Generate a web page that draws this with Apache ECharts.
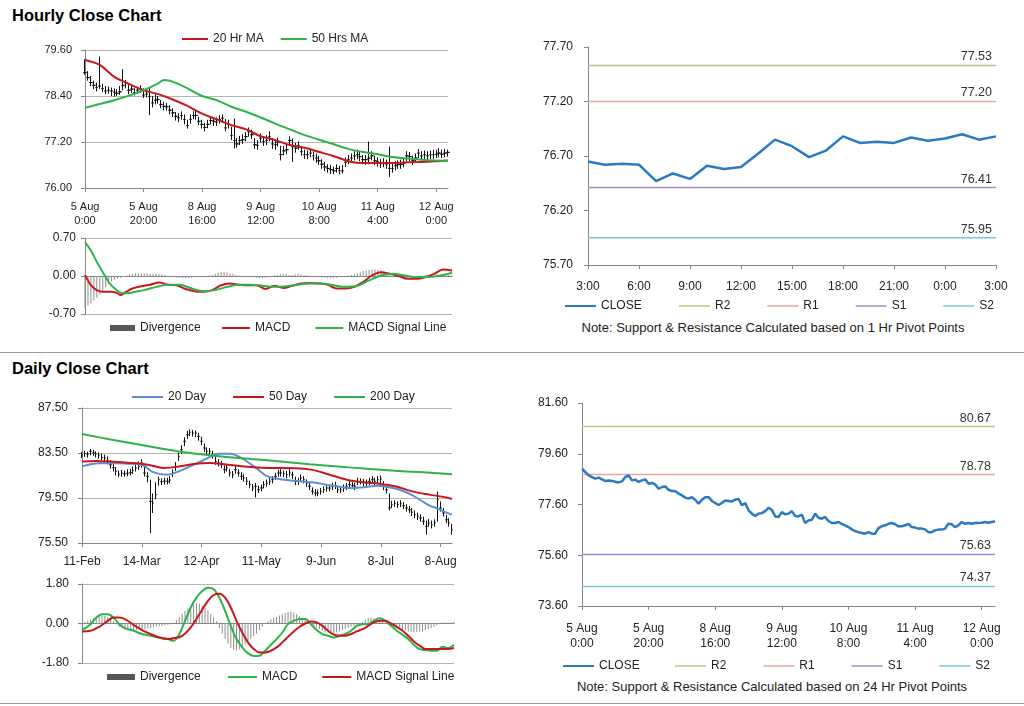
<!DOCTYPE html>
<html><head><meta charset="utf-8">
<script src="https://cdn.jsdelivr.net/npm/echarts/dist/echarts.min.js"></script>
<style>
body{margin:0;background:#fff;width:1024px;height:706px;overflow:hidden;position:relative;font-family:"Liberation Sans",Arial,sans-serif;}
.chart{position:absolute;left:0;top:0;width:1024px;height:706px;}
.title{position:absolute;left:12px;font-weight:bold;font-size:16.5px;color:#000;white-space:nowrap;}
.sep{position:absolute;left:0;width:1024px;height:0;border-top:1px solid #9a9a9a;}
.note{position:absolute;transform:translateX(-50%);font-size:13px;color:#222;white-space:nowrap;}
</style></head>
<body>
<div class="title" style="top:6px">Hourly Close Chart</div>
<div class="title" style="top:359px">Daily Close Chart</div>
<div class="sep" style="top:352px"></div>
<div class="sep" style="top:703px"></div>
<div class="note" style="left:773px;top:320px">Note: Support &amp; Resistance Calculated based on 1 Hr Pivot Points</div>
<div class="note" style="left:772px;top:679px">Note: Support &amp; Resistance Calculated based on 24 Hr Pivot Points</div>
<div id="c1" class="chart"></div>
<div id="c2" class="chart"></div>
<div id="c3" class="chart"></div>
<div id="c4" class="chart"></div>
<div id="c5" class="chart"></div>
<div id="c6" class="chart"></div>
<script>
// ---------------- DATA ----------------
const hourlyTicks = ['5 Aug\n0:00','5 Aug\n20:00','8 Aug\n16:00','9 Aug\n12:00','10 Aug\n8:00','11 Aug\n4:00','12 Aug\n0:00'];
const dailyTicks = ['11-Feb','14-Mar','12-Apr','11-May','9-Jun','8-Jul','8-Aug'];
const pivotHours = ['3:00','4:00','5:00','6:00','7:00','8:00','9:00','10:00','11:00','12:00','13:00','14:00','15:00','16:00','17:00','18:00','19:00','20:00','21:00','22:00','23:00','0:00','1:00','2:00','3:00'];

const hourlyClose = [79.01,78.88,78.75,78.68,78.62,78.66,78.59,78.53,78.55,78.53,78.50,78.47,78.51,78.68,78.75,78.55,78.58,78.49,78.55,78.59,
78.42,78.45,78.39,78.22,78.29,78.31,78.18,78.13,78.12,78.03,77.96,77.87,77.83,77.89,77.79,77.63,77.79,77.89,77.89,77.74,
77.66,77.58,77.66,77.76,77.74,77.72,77.79,77.82,77.57,77.66,77.37,77.24,77.15,77.24,77.26,77.34,77.47,77.39,77.13,77.11,
77.30,77.21,77.24,77.34,77.15,77.13,77.20,76.87,76.97,77.00,77.24,77.08,77.04,77.11,76.95,76.87,76.87,76.91,76.84,76.78,
76.71,76.62,76.55,76.51,76.48,76.45,76.51,76.45,76.45,76.67,76.74,76.78,76.84,76.87,76.82,76.74,76.74,76.78,76.84,76.71,
76.69,76.65,76.65,76.62,76.51,76.51,76.58,76.61,76.61,76.65,76.84,76.82,76.71,76.78,76.91,76.84,76.87,76.84,76.87,76.87,
76.88,76.91,76.88,76.91,76.93];
const hourlyHigh = [79.36,79.05,78.92,78.80,78.75,79.43,78.72,78.66,78.65,78.62,78.60,78.58,78.66,79.10,78.82,78.70,78.68,78.60,78.64,78.68,
78.60,78.55,78.62,78.40,78.45,78.40,78.30,78.25,78.22,78.15,78.08,77.98,77.95,78.00,77.92,77.78,77.92,78.00,78.02,77.86,
77.78,77.70,77.78,77.88,77.85,77.84,77.90,77.92,77.80,77.78,77.60,77.81,77.30,77.36,77.40,77.46,77.58,77.52,77.30,77.25,
77.42,77.35,77.38,77.48,77.30,77.25,77.32,77.10,77.10,77.15,77.35,77.29,77.18,77.22,77.08,77.00,76.98,77.02,76.95,76.90,
76.84,76.75,76.68,76.62,76.60,76.56,76.62,76.58,76.60,76.80,76.86,76.90,76.96,77.00,76.94,76.86,76.86,77.21,76.96,76.84,
76.80,76.76,76.78,76.74,77.08,76.64,76.70,76.72,76.74,76.78,76.96,76.94,76.84,76.90,77.02,76.96,76.98,76.96,76.98,77.00,
77.00,77.04,77.00,77.02,77.00];
const hourlyLow = [78.95,78.80,78.66,78.58,78.52,78.58,78.50,78.45,78.46,78.40,78.38,78.40,78.43,78.55,78.60,78.45,78.48,78.42,78.46,78.48,
78.35,78.36,77.90,78.10,78.18,78.20,78.08,78.03,78.02,77.92,77.85,77.76,77.72,77.78,77.66,77.55,77.68,77.80,77.78,77.64,
77.55,77.48,77.56,77.66,77.62,77.62,77.68,77.70,77.48,77.55,77.25,77.03,77.05,77.12,77.15,77.22,77.34,77.28,77.02,77.00,
77.18,77.10,77.12,77.22,77.02,77.00,77.08,76.72,76.85,76.88,77.10,76.68,76.92,77.00,76.84,76.76,76.75,76.80,76.72,76.66,
76.60,76.50,76.44,76.40,76.37,76.36,76.40,76.36,76.38,76.55,76.62,76.66,76.72,76.75,76.70,76.62,76.60,76.62,76.72,76.60,
76.56,76.52,76.54,76.50,76.29,76.40,76.46,76.50,76.50,76.54,76.70,76.70,76.60,76.66,76.78,76.72,76.76,76.72,76.76,76.76,
76.78,76.80,76.78,76.80,76.82];
const hourlyMA20 = [[0,79.34],[5,79.21],[10,78.90],[14,78.75],[20,78.55],[25,78.45],[30,78.31],[35,78.14],[40,77.94],[45,77.79],[50,77.64],[55,77.53],[60,77.35],[65,77.25],[70,77.12],[75,77.05],[80,76.94],[85,76.83],[90,76.70],[95,76.65],[100,76.65],[105,76.65],[110,76.67],[115,76.68],[120,76.70],[124,76.72]];
const hourlyMA50 = [[0,78.09],[5,78.19],[10,78.29],[15,78.41],[20,78.55],[25,78.73],[27,78.82],[29,78.80],[32,78.71],[35,78.60],[40,78.40],[45,78.29],[50,78.12],[55,77.99],[60,77.84],[65,77.68],[70,77.53],[75,77.38],[80,77.26],[85,77.14],[90,77.02],[95,76.94],[100,76.88],[105,76.81],[110,76.77],[115,76.74],[120,76.72],[124,76.71]];
const hourlyDiv = [-0.60,-0.55,-0.50,-0.45,-0.40,-0.34,-0.28,-0.21,-0.15,-0.10,-0.07,-0.05,-0.03,-0.01,0.01,0.03,0.04,0.05,0.05,0.05,
0.05,0.05,0.04,0.04,0.04,0.03,0.03,0.02,0.00,-0.01,-0.02,-0.03,-0.03,-0.04,-0.04,-0.03,-0.03,-0.02,-0.02,-0.01,
-0.01,0.00,0.01,0.02,0.04,0.06,0.07,0.08,0.07,0.05,0.04,0.02,0.01,0.00,0.00,-0.01,-0.01,-0.02,-0.03,-0.04,
-0.04,-0.03,-0.02,-0.01,0.01,0.02,0.03,0.03,0.03,0.02,0.02,0.03,0.04,0.03,0.02,0.01,0.00,-0.01,-0.02,-0.02,
-0.03,-0.03,-0.04,-0.04,-0.03,-0.03,-0.02,-0.01,0.00,0.01,0.02,0.03,0.05,0.07,0.09,0.10,0.11,0.12,0.12,0.11,
0.10,0.08,0.05,0.02,0.00,-0.01,-0.02,-0.03,-0.03,-0.03,-0.02,-0.02,-0.01,0.00,0.01,0.02,0.02,0.03,0.03,0.03,
0.02,0.03,0.03,0.02,0.02];
const hourlyMACD = [[0,0.02],[2,-0.17],[4,-0.26],[6,-0.29],[9,-0.29],[11,-0.32],[12,-0.35],[14,-0.29],[16,-0.23],[19,-0.19],[22,-0.16],[25,-0.12],[28,-0.16],[31,-0.17],[34,-0.24],[37,-0.28],[40,-0.29],[43,-0.26],[46,-0.17],[49,-0.14],[52,-0.16],[55,-0.17],[58,-0.17],[61,-0.24],[64,-0.18],[67,-0.22],[70,-0.18],[73,-0.14],[76,-0.13],[79,-0.14],[82,-0.16],[85,-0.23],[88,-0.23],[91,-0.20],[94,-0.11],[97,0.01],[100,0.07],[103,0.04],[106,0.00],[109,-0.05],[112,-0.05],[115,-0.02],[118,0.04],[121,0.12],[124,0.10]];
const hourlySignal = [[0,0.62],[2,0.47],[4,0.26],[6,0.07],[8,-0.11],[10,-0.23],[12,-0.31],[14,-0.32],[17,-0.29],[20,-0.26],[24,-0.20],[28,-0.16],[32,-0.16],[36,-0.23],[40,-0.28],[44,-0.26],[48,-0.20],[52,-0.16],[56,-0.16],[60,-0.18],[64,-0.20],[68,-0.19],[72,-0.16],[76,-0.14],[80,-0.14],[84,-0.17],[88,-0.20],[92,-0.18],[96,-0.08],[100,0.01],[104,0.04],[108,0.01],[112,-0.02],[116,-0.02],[120,0.01],[124,0.06]];

const pivotClose = [76.65,76.62,76.63,76.62,76.47,76.54,76.49,76.61,76.58,76.60,76.72,76.85,76.79,76.69,76.75,76.88,76.82,76.83,76.82,76.87,76.84,76.86,76.90,76.85,76.88];
const pivotNames = ['R2','R1','S1','S2'];
const pivot1hLevels = [77.53,77.20,76.41,75.95];
const pivot24hLevels = [80.67,78.78,75.63,74.37];

const dailyClose = [83.30,83.45,83.40,83.65,83.50,83.40,83.30,83.10,83.06,82.80,82.46,82.20,81.87,81.60,81.72,81.65,81.70,81.75,81.95,82.17,
82.30,82.60,81.72,81.43,79.20,79.06,79.80,81.13,80.95,81.00,80.98,81.10,81.72,82.30,83.20,83.80,84.54,85.13,85.34,85.28,
85.28,84.98,84.54,83.94,83.65,83.65,83.35,82.76,82.61,82.46,82.02,82.17,81.72,81.57,82.02,81.72,81.43,81.28,80.98,80.69,
80.39,80.54,80.24,80.39,80.69,80.83,80.98,81.13,81.43,81.72,81.72,81.66,81.57,81.72,81.57,80.98,80.98,81.28,81.13,80.83,
80.54,80.09,79.94,79.94,80.09,80.24,80.39,80.39,80.54,80.60,80.24,80.24,80.39,80.54,80.69,80.60,80.54,80.98,80.98,80.89,
80.83,80.98,81.13,80.98,81.13,81.19,80.54,80.24,78.61,78.91,79.00,78.91,79.00,78.82,78.61,78.46,78.23,78.02,77.87,77.72,
77.43,76.98,77.28,77.13,77.28,79.35,78.61,78.17,77.57,77.28,76.69];
const dailyHigh = [83.60,83.70,83.62,83.85,83.78,83.65,83.55,83.45,83.35,83.20,82.85,82.55,82.25,81.95,82.00,81.95,82.05,82.10,82.30,82.50,
82.75,82.95,82.50,81.80,81.13,79.90,80.90,81.40,81.25,81.30,81.30,81.45,82.05,82.70,83.55,84.20,84.90,85.45,85.60,85.55,
85.50,85.30,84.95,84.35,84.00,83.95,83.70,83.20,82.95,82.80,82.40,82.50,82.10,81.90,82.35,82.05,81.80,81.60,81.35,81.05,
80.75,80.85,80.60,80.70,81.00,81.15,81.30,81.45,81.75,82.00,82.05,81.95,81.90,82.05,81.85,81.40,81.30,81.60,81.45,81.15,
80.90,80.45,80.30,80.25,80.40,80.55,80.70,80.70,80.85,80.95,80.60,80.55,80.70,80.85,81.00,80.90,80.85,81.30,81.25,81.20,
81.15,81.30,81.45,81.30,81.45,81.50,81.00,80.60,79.90,79.25,79.30,79.20,79.30,79.15,78.95,78.80,78.60,78.40,78.20,78.05,
77.85,77.50,77.65,77.50,77.60,80.09,79.20,78.60,78.00,77.70,77.20];
const dailyLow = [83.05,83.15,83.10,83.30,83.25,83.10,83.00,82.85,82.75,82.50,82.10,81.85,81.50,81.35,81.40,81.40,81.45,81.50,81.65,81.85,
82.00,82.20,81.40,80.90,76.39,78.17,79.40,80.60,80.65,80.70,80.70,80.80,81.35,81.90,82.80,83.40,84.10,84.75,85.00,84.95,
84.90,84.60,84.20,83.60,83.30,83.35,83.00,82.45,82.30,82.15,81.70,81.85,81.40,81.25,81.65,81.40,81.10,80.95,80.65,80.40,
80.10,79.55,79.95,80.10,80.35,80.50,80.65,80.80,81.10,81.40,81.40,81.35,81.25,81.40,81.20,80.65,80.65,80.95,80.80,80.50,
80.20,79.80,79.65,79.65,79.80,79.95,80.05,80.10,80.20,80.30,79.95,79.95,80.05,80.20,80.35,80.30,80.20,80.65,80.70,80.55,
80.50,80.65,80.80,80.65,80.80,80.85,80.20,79.90,78.40,78.60,78.70,78.60,78.70,78.50,78.30,78.15,77.90,77.70,77.55,77.40,
77.10,76.24,76.95,76.80,76.95,77.40,78.30,77.85,77.25,76.95,76.24];
const daily20MA = [[0,82.31],[6,82.60],[12,82.60],[16,82.55],[21,82.46],[25,81.80],[30,81.57],[34,81.87],[38,82.31],[43,82.90],[48,83.44],[52,83.44],[57,82.90],[62,82.00],[65,81.45],[71,81.13],[81,80.89],[88,80.60],[95,80.39],[99,80.45],[104,80.60],[110,80.35],[113,80.10],[116,79.75],[119,79.30],[122,78.85],[125,78.55],[127,78.31],[130,78.02]];
const daily50MA = [[0,82.75],[5,82.80],[10,82.75],[15,82.65],[21,82.55],[25,82.35],[29,82.17],[34,82.30],[40,82.55],[45,82.61],[50,82.50],[57,82.30],[65,82.17],[75,82.15],[81,82.00],[87,81.57],[93,81.13],[99,80.89],[104,80.78],[110,80.54],[116,80.09],[122,79.80],[127,79.60],[130,79.41]];
const daily200MA = [[0,85.19],[10,84.70],[20,84.25],[34,83.64],[45,83.30],[55,83.05],[65,82.85],[80,82.50],[95,82.20],[110,81.92],[120,81.78],[130,81.62]];
const dailyDiv = [0.03,0.08,0.12,0.18,0.24,0.28,0.32,0.35,0.34,0.30,0.22,0.10,-0.05,-0.15,-0.22,-0.28,-0.32,-0.35,-0.34,-0.32,
-0.30,-0.28,-0.25,-0.22,-0.20,-0.18,-0.15,-0.12,-0.10,-0.08,-0.06,-0.03,0.05,0.15,0.30,0.45,0.58,0.70,0.80,0.87,
0.92,0.90,0.82,0.70,0.58,0.45,0.30,0.10,-0.20,-0.45,-0.70,-0.92,-1.10,-1.20,-1.22,-1.18,-1.08,-0.95,-0.82,-0.70,
-0.58,-0.45,-0.30,-0.15,0.00,0.10,0.18,0.25,0.30,0.36,0.42,0.48,0.52,0.55,0.50,0.42,0.33,0.25,0.18,0.08,
-0.02,-0.10,-0.18,-0.25,-0.32,-0.38,-0.42,-0.45,-0.44,-0.40,-0.35,-0.30,-0.25,-0.20,-0.15,-0.10,-0.05,0.00,0.08,0.18,
0.25,0.27,0.24,0.20,0.15,0.08,0.02,-0.05,-0.12,-0.18,-0.22,-0.25,-0.28,-0.32,-0.35,-0.38,-0.40,-0.40,-0.38,-0.35,
-0.30,-0.25,-0.20,-0.15,-0.08,-0.02,0.03,0.05,0.03,0.06,0.08];
const dailyMACD = [[0,-0.30],[3,-0.03],[5,0.27],[7,0.42],[9,0.42],[11,0.27],[13,-0.03],[15,-0.21],[18,-0.33],[21,-0.48],[24,-0.56],[27,-0.64],[30,-0.71],[32,-0.79],[34,-0.48],[36,0.12],[38,0.73],[40,1.18],[42,1.48],[44,1.63],[46,1.56],[48,1.18],[50,0.57],[52,-0.11],[54,-0.71],[56,-1.09],[58,-1.36],[60,-1.48],[62,-1.47],[64,-1.24],[66,-0.97],[68,-0.71],[70,-0.41],[72,-0.03],[74,0.12],[76,0.20],[78,0.20],[80,-0.03],[82,-0.30],[84,-0.48],[86,-0.56],[88,-0.64],[90,-0.56],[92,-0.48],[94,-0.33],[96,-0.11],[98,-0.03],[100,-0.03],[102,0.12],[104,0.24],[106,0.12],[108,-0.11],[110,-0.33],[112,-0.51],[114,-0.71],[116,-0.97],[118,-1.17],[120,-1.21],[122,-1.24],[124,-1.24],[126,-1.06],[128,-1.12],[130,-0.97]];
const dailySignal = [[0,-0.36],[3,-0.33],[6,-0.15],[9,0.12],[11,0.27],[13,0.27],[15,0.20],[18,-0.06],[21,-0.30],[24,-0.48],[27,-0.64],[30,-0.71],[32,-0.67],[35,-0.56],[38,-0.18],[41,0.42],[44,1.03],[46,1.30],[48,1.36],[50,1.18],[52,0.73],[54,0.12],[56,-0.41],[58,-0.86],[60,-1.16],[62,-1.32],[64,-1.32],[66,-1.24],[68,-1.09],[70,-0.86],[72,-0.61],[74,-0.36],[76,-0.15],[78,0.00],[80,0.09],[82,0.05],[84,-0.11],[86,-0.33],[88,-0.51],[90,-0.56],[92,-0.56],[94,-0.48],[96,-0.36],[98,-0.26],[100,-0.11],[102,0.05],[104,0.12],[106,0.12],[108,0.00],[110,-0.15],[112,-0.33],[114,-0.56],[116,-0.82],[118,-1.01],[120,-1.16],[122,-1.16],[124,-1.16],[126,-1.16],[128,-1.16],[130,-1.12]];

// ---------------- HELPERS ----------------
const FONT = '"Liberation Sans", Arial, sans-serif';
const TXT = '#222';
const AXIS = '#868686';
const RED = '#c8171d', GREEN = '#2db34a', BLUE = '#2a7abf', LBLUE = '#5b8fd4';
const PIVOT_COLORS = ['#b2cc85','#e8a5a5','#a68bc8','#7cc4da'];

function valAxis(min, max, interval, split, margin, fs) {
  return {type:'value', min:min, max:max, interval:interval,
    axisLine:{show:true, lineStyle:{color:AXIS}},
    axisTick:{show:true, length:4, lineStyle:{color:AXIS}},
    axisLabel:{color:TXT, fontSize:fs, fontFamily:FONT, margin:margin, formatter:v=>v.toFixed(2)},
    splitLine:{show:split, lineStyle:{color:'#b3b3b3', width:1}}};
}
function catAxis(n, every, ticks, margin, fs, lh, showLabels) {
  const idx = Array.from({length:n}, (_, i) => String(i));
  return {type:'category', data:idx, boundaryGap:false,
    axisLine:{show:true, onZero:true, lineStyle:{color:AXIS}},
    axisTick:{show:showLabels, interval:every-1, length:4, lineStyle:{color:AXIS}},
    axisLabel:{show:showLabels, interval:every-1, color:TXT, fontSize:fs, fontFamily:FONT, margin:margin, lineHeight:lh,
      formatter:(v, i) => (i % every === 0 && ticks[i/every] !== undefined) ? ticks[i/every] : ''},
    splitLine:{show:false}};
}
function lineLegend(left, top, names, w, gap, h) {
  return {left:left, top:top, padding:0, icon:'rect', itemWidth:w, itemHeight:h||2, itemGap:gap,
    textStyle:{color:TXT, fontSize:12, fontFamily:FONT}, data:names};
}
function maLine(name, data, color, width) {
  return {name:name, type:'line', data:data, symbol:'none', smooth:0.35, lineStyle:{color:color, width:width||2}, itemStyle:{color:color}, z:5};
}
function pivotSeries(levels, lastIdx) {
  return pivotNames.map((nm, k) => ({
    name:nm, type:'line', symbol:'none', lineStyle:{color:PIVOT_COLORS[k], width:1.5}, itemStyle:{color:PIVOT_COLORS[k]},
    data:[[0, levels[k]], [lastIdx, levels[k]]],
    endLabel:{show:true, align:'right', verticalAlign:'bottom', distance:0, offset:[-4,-2], color:'#333', fontSize:12.5, fontFamily:FONT,
      formatter:p => levels[k].toFixed(2)}
  }));
}
const G = {outerBoundsMode:'none', containLabel:false};

// ---------------- CHART 1: hourly price ----------------
const c1 = echarts.init(document.getElementById('c1'));
c1.setOption({
  animation:false,
  legend:lineLegend(182, 33, ['20 Hr MA','50 Hrs MA'], 26, 17),
  grid:Object.assign({left:85, top:50, width:363, height:138}, G),
  xAxis:catAxis(hourlyClose.length, 20, hourlyTicks, 12, 11, 14, true),
  yAxis:valAxis(76, 79.6, 1.2, true, 13, 11),
  series:[
    {name:'Price', type:'candlestick', barWidth:3,
      data:hourlyClose.map((c, i) => [c, c, hourlyLow[i], hourlyHigh[i]]),
      itemStyle:{color:'#111', color0:'#111', borderColor:'#111', borderColor0:'#111', borderWidth:1}},
    maLine('20 Hr MA', hourlyMA20, RED),
    maLine('50 Hrs MA', hourlyMA50, GREEN)
  ]
});

// ---------------- CHART 2: hourly MACD ----------------
const c2 = echarts.init(document.getElementById('c2'));
c2.setOption({
  animation:false,
  legend:[
    {left:110, top:322, padding:0, icon:'rect', itemWidth:25, itemHeight:6, textStyle:{color:TXT, fontSize:12, fontFamily:FONT}, data:[{name:'Divergence', itemStyle:{color:'#555'}}]},
    lineLegend(222, 322, ['MACD','MACD Signal Line'], 28, 25)
  ],
  grid:Object.assign({left:85, top:238, width:367, height:76}, G),
  xAxis:catAxis(hourlyDiv.length, 20, [], 0, 11, 14, false),
  yAxis:valAxis(-0.7, 0.7, 0.7, true, 9, 12),
  series:[
    {name:'Divergence', type:'bar', data:hourlyDiv, barWidth:1, itemStyle:{color:'#8c8c8c'}},
    maLine('MACD', hourlyMACD, RED),
    maLine('MACD Signal Line', hourlySignal, GREEN)
  ]
});

// ---------------- CHART 3: 1 Hr pivot ----------------
const c3 = echarts.init(document.getElementById('c3'));
c3.setOption({
  animation:false,
  legend:[lineLegend(565, 300, ['CLOSE'], 31, 37, 2), lineLegend(679, 300, pivotNames, 31, 37, 1.5)],
  grid:Object.assign({left:588, top:47, width:408, height:218}, G),
  xAxis:catAxis(pivotClose.length, 3, pivotHours.filter((_, i) => i % 3 === 0), 15, 12, 14, true),
  yAxis:valAxis(75.7, 77.7, 0.5, false, 15, 12),
  series:[{name:'CLOSE', type:'line', data:pivotClose, symbol:'none', lineStyle:{color:BLUE, width:2.5}, itemStyle:{color:BLUE}, z:5}]
    .concat(pivotSeries(pivot1hLevels, pivotClose.length - 1))
});

// ---------------- CHART 4: daily price ----------------
const c4 = echarts.init(document.getElementById('c4'));
c4.setOption({
  animation:false,
  legend:lineLegend(132, 391, ['20 Day','50 Day','200 Day'], 31, 27),
  grid:Object.assign({left:82, top:408, width:370, height:135}, G),
  xAxis:catAxis(dailyClose.length, 21, dailyTicks, 12, 12, 14, true),
  yAxis:valAxis(75.5, 87.5, 4, true, 14, 12),
  series:[
    {name:'Price', type:'candlestick', barWidth:2,
      data:dailyClose.map((c, i) => [c, c, dailyLow[i], dailyHigh[i]]),
      itemStyle:{color:'#111', color0:'#111', borderColor:'#111', borderColor0:'#111', borderWidth:1}},
    maLine('20 Day', daily20MA, LBLUE),
    maLine('50 Day', daily50MA, RED),
    maLine('200 Day', daily200MA, GREEN)
  ]
});

// ---------------- CHART 5: daily MACD ----------------
const c5 = echarts.init(document.getElementById('c5'));
c5.setOption({
  animation:false,
  legend:[
    {left:107, top:671, padding:0, icon:'rect', itemWidth:28, itemHeight:6, textStyle:{color:TXT, fontSize:12, fontFamily:FONT}, data:[{name:'Divergence', itemStyle:{color:'#555'}}]},
    lineLegend(228, 671, ['MACD','MACD Signal Line'], 29, 25)
  ],
  grid:Object.assign({left:82, top:584, width:372, height:79}, G),
  xAxis:catAxis(dailyDiv.length, 21, [], 0, 11, 14, false),
  yAxis:valAxis(-1.8, 1.8, 1.8, true, 13, 12),
  series:[
    {name:'Divergence', type:'bar', data:dailyDiv, barWidth:1, itemStyle:{color:'#8c8c8c'}},
    maLine('MACD', dailyMACD, GREEN),
    maLine('MACD Signal Line', dailySignal, RED)
  ]
});

// ---------------- CHART 6: 24 Hr pivot ----------------
const c6 = echarts.init(document.getElementById('c6'));
c6.setOption({
  animation:false,
  legend:[lineLegend(563, 660, ['CLOSE'], 31, 37, 2), lineLegend(675, 660, pivotNames, 31, 37, 1.5)],
  grid:Object.assign({left:582, top:403, width:413, height:203}, G),
  xAxis:catAxis(hourlyClose.length, 20, hourlyTicks, 15, 12, 15, true),
  yAxis:valAxis(73.6, 81.6, 2, false, 14, 12),
  series:[{name:'CLOSE', type:'line', data:hourlyClose, symbol:'none', lineStyle:{color:BLUE, width:2.5}, itemStyle:{color:BLUE}, z:5}]
    .concat(pivotSeries(pivot24hLevels, hourlyClose.length - 1))
});
</script>
</body></html>
